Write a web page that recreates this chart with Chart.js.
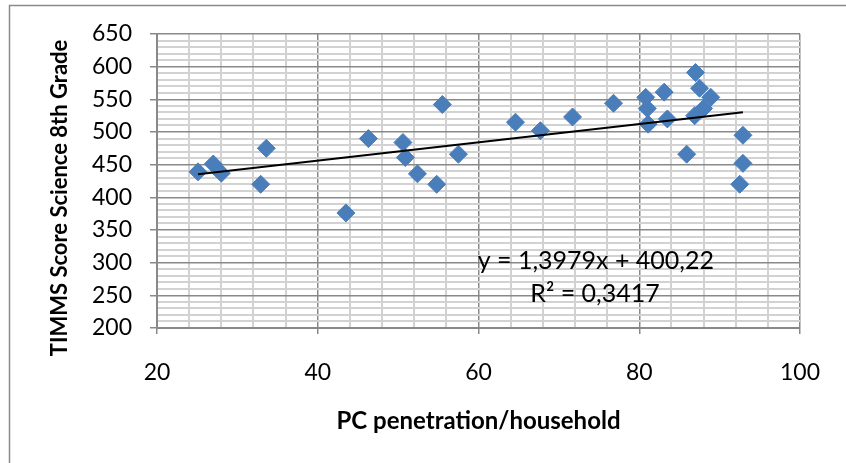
<!DOCTYPE html>
<html>
<head>
<meta charset="utf-8">
<script src="https://cdn.jsdelivr.net/npm/chart.js@4.4.1/dist/chart.umd.min.js"></script>
<style>
  html, body { margin: 0; padding: 0; background: #fff; overflow: hidden; }
  #wrap { position: relative; width: 846px; height: 463px; }
</style>
</head>
<body>
<div id="wrap"><canvas id="chart"></canvas></div>
<script>
// PC penetration per household (%) vs TIMSS science score, 8th grade
const pcPenetration = [25.1, 27.0, 28.0, 33.6, 32.9, 43.5, 46.3, 50.6, 50.9, 52.4, 54.8, 55.5, 57.5,
  64.6, 67.7, 71.7, 76.8, 80.8, 81.0, 81.1, 83.1, 83.5, 85.9, 87.0, 87.5, 88.9, 88.0, 86.9, 92.9, 92.9, 92.5];
const scienceScore = [439, 451, 437, 475, 420, 376, 490, 484, 461, 436, 420, 542, 466,
  515, 502, 523, 544, 553, 536, 512, 561, 520, 466, 591, 567, 553, 536, 525, 495, 452, 420];

// linear trend: y = slope * x + intercept
const trendSlope = 1.3979;
const trendIntercept = 400.22;
const trendLabel = ['y = 1,3979x + 400,22', 'R\u00b2 = 0,3417'];

const xMajorTicks = [20, 40, 60, 80, 100];
const yMajorTicks = [200, 250, 300, 350, 400, 450, 500, 550, 600, 650];

const FONT = "Lato, 'Open Sans', sans-serif";
const MAJOR = '#898989';
const MINOR = '#d2d2d2';

const points = pcPenetration.map((x, i) => ({ x: x, y: scienceScore[i] }));
const xMin = Math.min(...pcPenetration);
const xMax = Math.max(...pcPenetration);
const trendPoints = [xMin, xMax].map(x => ({ x: x, y: trendSlope * x + trendIntercept }));

const isMajorX = v => xMajorTicks.includes(Math.round(v));
const isMajorY = v => yMajorTicks.includes(Math.round(v));

// outer frame, rotated y title and the trend equation
const decorations = {
  id: 'decorations',
  afterDraw(chart) {
    const ctx = chart.ctx;
    const xs = chart.scales.x, ys = chart.scales.y;
    ctx.save();
    ctx.strokeStyle = '#8a8a8a';
    ctx.lineWidth = 1.5;
    ctx.strokeRect(9.5, 5.5, 900, 500);

    // y title, sized to run from 356px up to 40px
    const yTitle = 'TIMMS Score Science 8th Grade';
    ctx.font = 'bold 20px ' + FONT;
    const size = 20 * 316 / ctx.measureText(yTitle).width;
    ctx.font = 'bold ' + size.toFixed(1) + 'px ' + FONT;
    ctx.fillStyle = '#000';
    ctx.textAlign = 'center';
    ctx.textBaseline = 'middle';
    ctx.translate(60, 198);
    ctx.rotate(-Math.PI / 2);
    ctx.fillText(yTitle, 0, 0);
    ctx.restore();

    ctx.save();
    ctx.fillStyle = '#000';
    ctx.font = '25px ' + FONT;
    ctx.textAlign = 'center';
    ctx.textBaseline = 'middle';
    ctx.fillText(trendLabel[0], xs.getPixelForValue(74.6), ys.getPixelForValue(302));
    ctx.fillText(trendLabel[1], xs.getPixelForValue(74.5), ys.getPixelForValue(252));
    ctx.restore();
  }
};

new Chart(document.getElementById('chart'), {
  type: 'scatter',
  data: {
    datasets: [
      {
        type: 'line',
        data: trendPoints,
        borderColor: '#000',
        borderWidth: 2,
        pointRadius: 0,
        fill: false,
        order: 0
      },
      {
        data: points,
        pointStyle: 'rectRot',
        pointRadius: 9,
        backgroundColor: '#4A7EBB',
        borderColor: '#4A7EBB',
        borderWidth: 1,
        order: 1
      }
    ]
  },
  options: {
    responsive: true,
    maintainAspectRatio: false,
    animation: false,
    layout: { padding: { left: 0, right: 46, top: 34, bottom: 0 } },
    plugins: { legend: { display: false }, tooltip: { enabled: false } },
    scales: {
      x: {
        type: 'linear',
        min: 20,
        max: 100,
        afterFit: s => { s.height = 135; },
        ticks: {
          stepSize: 4,
          autoSkip: false,
          maxRotation: 0,
          padding: 25,
          color: '#000',
          font: { family: FONT, size: 23 },
          callback: v => isMajorX(v) ? String(v) : ''
        },
        grid: {
          color: c => isMajorX(c.tick.value) ? MAJOR : MINOR,
          lineWidth: c => isMajorX(c.tick.value) ? 1.5 : 2,
          tickLength: 6,
          tickColor: c => isMajorX(c.tick.value) ? MAJOR : 'rgba(0,0,0,0)'
        },
        border: { color: MAJOR, width: 2 },
        title: {
          display: true,
          text: 'PC penetration/household',
          color: '#000',
          font: { family: FONT, size: 24, weight: 'bold' },
          padding: { top: 0, bottom: 27 }
        }
      },
      y: {
        min: 200,
        max: 650,
        afterFit: s => { s.width = 157; },
        ticks: {
          stepSize: 10,
          autoSkip: false,
          padding: 18,
          color: '#000',
          font: { family: FONT, size: 23 },
          callback: v => isMajorY(v) ? String(v) : ''
        },
        grid: {
          color: c => isMajorY(c.tick.value) ? MAJOR : MINOR,
          lineWidth: c => isMajorY(c.tick.value) ? 1.5 : 2,
          tickLength: 7,
          tickColor: c => isMajorY(c.tick.value) ? MAJOR : 'rgba(0,0,0,0)'
        },
        border: { color: MAJOR, width: 2 }
      }
    }
  },
  plugins: [decorations]
});
</script>
</body>
</html>
